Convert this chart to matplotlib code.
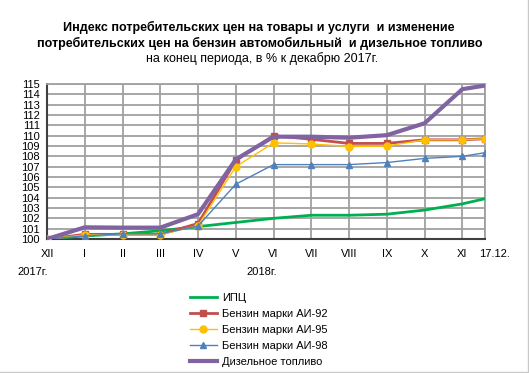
import matplotlib
matplotlib.use('Agg')
import matplotlib.pyplot as plt

plt.rcParams['font.family'] = ['Liberation Sans', 'DejaVu Sans']

# ----- данные -----
labels = ["XII", "I", "II", "III", "IV", "V", "VI", "VII", "VIII", "IX", "X", "XI", "17.12."]
xpos = [0, 1, 2, 3, 4, 5, 6, 7, 8, 9, 10, 11, 11.6]

cpi = [100, 100.3, 100.5, 100.8, 101.2, 101.6, 102.0, 102.3, 102.3, 102.4, 102.8, 103.4, 103.9]
ai92 = [100, 100.45, 100.45, 100.45, 101.5, 107.6, 110.0, 109.65, 109.25, 109.25, 109.6, 109.6, 109.7]
ai95 = [100, 100.4, 100.4, 100.4, 101.3, 107.0, 109.3, 109.2, 108.95, 109.0, 109.6, 109.6, 109.7]
ai98 = [100, 100.3, 100.5, 100.5, 101.25, 105.3, 107.2, 107.2, 107.2, 107.4, 107.8, 108.0, 108.35]
diesel = [100, 101.13, 101.1, 101.1, 102.4, 107.7, 109.9, 109.9, 109.8, 110.05, 111.2, 114.5, 114.85]

fig = plt.figure(figsize=(5.29, 3.73), dpi=100)
ax = fig.add_axes([47 / 529, 1 - 239 / 373, (485 - 47) / 529, (239 - 84) / 373])

ax.plot(xpos, cpi, color="#00B050", lw=2, label="ИПЦ", zorder=3)
ax.plot(xpos, ai92, color="#C0504D", lw=2, marker="s", ms=5, label="Бензин марки АИ-92", zorder=4)
ax.plot(xpos, ai95, color="#FFC000", lw=1, marker="o", ms=5, label="Бензин марки АИ-95", zorder=5)
ax.plot(xpos, ai98, color="#4F81BD", lw=1, marker="^", ms=5, label="Бензин марки АИ-98", zorder=5)
ax.plot(xpos, diesel, color="#8064A2", lw=3, label="Дизельное топливо", zorder=6)

ax.set_xlim(0, 11.6)
ax.set_ylim(100, 115)
ax.set_yticks(range(100, 116))
ax.set_xticks(xpos)
# последняя подпись (17.12.) сдвинута вправо, как в оригинале
ax.set_xticklabels(labels[:-1] + [""])
ax.annotate(labels[-1], xy=(xpos[-1], 100), xytext=(7, -11), textcoords="offset points",
            ha="center", va="center", fontsize=8, annotation_clip=False)
ax.tick_params(axis='both', length=0, labelsize=8, pad=7)
ax.tick_params(axis='y', pad=5)
ax.grid(True, color="#A0A0A0", lw=1.3)
ax.set_axisbelow(True)
for s in ["top", "right"]:
    ax.spines[s].set_color("#A0A0A0")
    ax.spines[s].set_linewidth(1.3)
for s in ["left", "bottom"]:
    ax.spines[s].set_color("#404040")
    ax.spines[s].set_linewidth(1.5)

fig.text(33 / 529, 1 - 272 / 373, "2017г.", fontsize=8, ha="center", va="center")
fig.text(262 / 529, 1 - 272 / 373, "2018г.", fontsize=8, ha="center", va="center")

fig.text(259 / 529, 1 - 27 / 373, "Индекс потребительских цен на товары и услуги  и изменение",
         fontsize=9, fontweight="bold", ha="center", va="center")
fig.text(260 / 529, 1 - 43 / 373, "потребительских цен на бензин автомобильный  и дизельное топливо",
         fontsize=9, fontweight="bold", ha="center", va="center")
fig.text(262 / 529, 1 - 59 / 373, "на конец периода, в % к декабрю 2017г.",
         fontsize=9, ha="center", va="center")

ax.legend(loc="upper left", bbox_to_anchor=(184 / 529, 1 - 287 / 373), bbox_transform=fig.transFigure,
          frameon=False, fontsize=8, handlelength=2.5, labelspacing=0.55, borderpad=0, handletextpad=0.45)

# рамка диаграммы (видна справа и снизу)
fig.add_artist(plt.Line2D([527.5 / 529, 527.5 / 529], [1.5 / 373, 1], color="#C8C8C8", lw=1))
fig.add_artist(plt.Line2D([0, 527.5 / 529], [1.5 / 373, 1.5 / 373], color="#C8C8C8", lw=1))

fig.savefig("out.png", dpi=100)
